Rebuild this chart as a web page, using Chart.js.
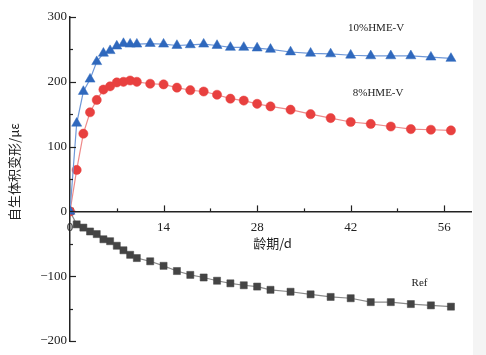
<!DOCTYPE html>
<html>
<head>
<meta charset="utf-8">
<script src="https://cdn.jsdelivr.net/npm/chart.js@4"></script>
<style>
  html, body { margin: 0; padding: 0; }
  body { width: 486px; height: 355px; overflow: hidden;
         background: linear-gradient(to right, #ffffff 473px, #f4f4f4 473px); }
  #wrap { position: relative; width: 486px; height: 355px; }
</style>
</head>
<body>
<div id="wrap"><canvas id="c" width="486" height="355"></canvas></div>
<script>
// ---- data ----
const days  = [0,1,2,3,4,5,6,7,8,9,10,12,14,16,18,20,22,24,26,28,30,33,36,39,42,45,48,51,54,57];
const hme10 = [0,136,185,204,231,244,248,255,259,258,258,259,258,256,257,258,256,253,253,252,250,246,244,243,241,240,240,240,238,236];
const hme8  = [0,64,120,153,172,188,193,199,200,202,200,197,196,191,187,185,180,174,171,166,162,157,150,144,138,135,131,127,126,125];
const ref   = [0,-20,-25,-31,-35,-43,-46,-53,-60,-67,-72,-77,-84,-92,-98,-102,-107,-111,-114,-116,-121,-124,-128,-132,-134,-140,-140,-143,-145,-147];
const seriesNames = ['10%HME-V', '8%HME-V', 'Ref'];
const xTickValues = [0, 14, 28, 42, 56];
const yTickValues = [-200, -100, 0, 100, 200, 300];
const xTitle = '龄期/d';
const yTitle = '自生体积变形/με';

// label anchors in data coordinates
const seriesLabelPos = [[45.8, 283], [46.1, 182], [52.3, -110]];

const toPts = arr => days.map((d, i) => ({ x: d, y: arr[i] }));

const decor = {
  id: 'decor',
  afterDraw(chart) {
    const { ctx, scales: { x, y }, chartArea } = chart;
    const left = chartArea.left;
    const y0 = y.getPixelForValue(0);
    ctx.save();
    ctx.strokeStyle = '#222';
    ctx.lineWidth = 1.2;
    // y ticks (inside)
    for (let v = -200; v <= 300; v += 50) {
      const py = Math.round(y.getPixelForValue(v)) + 0.5;
      const len = (v % 100 === 0) ? 6 : 3;
      ctx.beginPath(); ctx.moveTo(left, py); ctx.lineTo(left + len, py); ctx.stroke();
    }
    // x ticks (inside, upward)
    for (let d = 7; d <= 56; d += 7) {
      const px = Math.round(x.getPixelForValue(d)) + 0.5;
      const len = (d % 14 === 0) ? 6 : 3;
      ctx.beginPath(); ctx.moveTo(px, y0); ctx.lineTo(px, y0 - len); ctx.stroke();
    }
    // series labels
    ctx.fillStyle = '#222';
    ctx.font = '11px "Liberation Serif", serif';
    ctx.textAlign = 'center';
    ctx.textBaseline = 'middle';
    seriesNames.forEach((n, i) => {
      const p = seriesLabelPos[i];
      ctx.fillText(n, x.getPixelForValue(p[0]), y.getPixelForValue(p[1]));
    });
    // x axis title
    ctx.font = '13px "Noto Sans CJK SC", sans-serif';
    ctx.fillText(xTitle, (chartArea.left + chartArea.right) / 2 + 2, y0 + 32);
    // y axis title
    ctx.translate(14, 172);
    ctx.rotate(-Math.PI / 2);
    ctx.fillText(yTitle, 0, 0);
    ctx.restore();
  }
};

new Chart(document.getElementById('c'), {
  type: 'scatter',
  data: {
    datasets: [
      { label: seriesNames[0], data: toPts(hme10), showLine: true,
        borderColor: '#6f98d8', borderWidth: 1.2,
        pointStyle: 'triangle', pointRadius: 5.8, pointBackgroundColor: '#2f68bd', pointBorderColor: '#2f68bd', pointBorderWidth: 0.5 },
      { label: seriesNames[1], data: toPts(hme8), showLine: true,
        borderColor: '#ee8a8a', borderWidth: 1.2,
        pointStyle: 'circle', pointRadius: 4.6, pointBackgroundColor: '#e8403f', pointBorderColor: '#e8403f', pointBorderWidth: 0.5 },
      { label: seriesNames[2], data: toPts(ref), showLine: true,
        borderColor: '#8a8a8a', borderWidth: 1.2,
        pointStyle: 'rect', pointRadius: 5, pointBackgroundColor: '#444444', pointBorderColor: '#444444', pointBorderWidth: 0.5 }
    ]
  },
  options: {
    responsive: false,
    animation: false,
    layout: { padding: { left: 0, top: 17, right: 15, bottom: 14 } },
    plugins: { legend: { display: false }, tooltip: { enabled: false } },
    scales: {
      x: {
        type: 'linear', min: 0, max: 60,
        position: { y: 0 },
        afterFit: s => { s.height = 0; },
        afterBuildTicks: s => { s.ticks = xTickValues.map(v => ({ value: v })); },
        grid: { display: true, drawOnChartArea: false, drawTicks: false },
        border: { display: true, color: '#222', width: 1.5 },
        ticks: { padding: 8, color: '#222', font: { family: 'Liberation Serif', size: 13 }, maxRotation: 0 }
      },
      y: {
        type: 'linear', min: -200, max: 300,
        afterFit: s => { s.width = 70; },
        afterBuildTicks: s => { s.ticks = yTickValues.map(v => ({ value: v })); },
        grid: { display: true, drawOnChartArea: false, drawTicks: false },
        border: { display: true, color: '#222', width: 1.5 },
        ticks: { padding: 3, color: '#222', font: { family: 'Liberation Serif', size: 13 },
                 callback: v => String(v).replace('-', '\u2212') }
      }
    }
  },
  plugins: [decor]
});
</script>
</body>
</html>
